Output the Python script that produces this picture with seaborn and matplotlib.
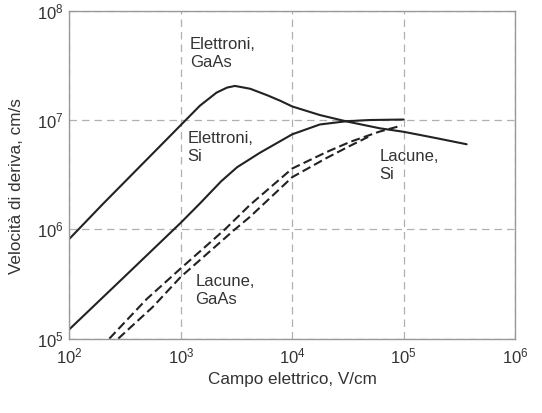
import matplotlib
matplotlib.use("Agg")
import matplotlib.pyplot as plt
import seaborn as sns
import pandas as pd

# Electric field (V/cm) and drift velocity (cm/s)
e_gaas_E = [100, 200, 500, 1000, 1480, 2090, 2600, 3060, 4200, 6000, 7800, 10000, 17700, 30800, 61000, 100000, 140000, 200000, 368000]
e_gaas_v = [8.2e5, 1.71e6, 4.4e6, 9.0e6, 1.35e7, 1.78e7, 1.98e7, 2.05e7, 1.93e7, 1.68e7, 1.5e7, 1.33e7, 1.11e7, 9.7e6, 8.4e6, 7.8e6, 7.3e6, 6.8e6, 6.0e6]

e_si_E = [100, 326, 1000, 1480, 2300, 3200, 5100, 10000, 17700, 30800, 50000, 100000]
e_si_v = [1.22e5, 3.85e5, 1.15e6, 1.72e6, 2.75e6, 3.7e6, 5.0e6, 7.4e6, 9.1e6, 9.75e6, 1.0e7, 1.01e7]

h_si_E = [228, 493, 1000, 2490, 4170, 10000, 20400, 33000, 60000, 96000]
h_si_v = [1.0e5, 2.3e5, 4.4e5, 1.0e6, 1.67e6, 3.6e6, 5.1e6, 6.3e6, 7.8e6, 8.9e6]

h_gaas_E = [274, 560, 1000, 3060, 4170, 10000, 20400, 33000, 48000]
h_gaas_v = [1.0e5, 1.95e5, 3.68e5, 1.0e6, 1.3e6, 3.0e6, 4.5e6, 5.8e6, 7.0e6]

xticks = [1e2, 1e3, 1e4, 1e5, 1e6]
yticks = [1e5, 1e6, 1e7, 1e8]

sns.set_style("white")
plt.rcParams['font.family'] = ['Liberation Sans', 'DejaVu Sans']
plt.rcParams['mathtext.fontset'] = 'custom'
plt.rcParams['mathtext.rm'] = 'Liberation Sans'

fig = plt.figure(figsize=(5.42, 4.13), dpi=100)
ax = fig.add_axes([0.1282, 0.1801, 0.822, 0.794])

line_c = "#222222"
curves = [
    (e_gaas_E, e_gaas_v, "-"),
    (e_si_E, e_si_v, "-"),
    (h_si_E, h_si_v, "--"),
    (h_gaas_E, h_gaas_v, "--"),
]
for E, v, ls in curves:
    df = pd.DataFrame({"E": E, "v": v})
    sns.lineplot(data=df, x="E", y="v", ax=ax, color=line_c, lw=1.5, sort=False)
    ln = ax.lines[-1]
    ln.set_solid_joinstyle("round")
    if ls == "--":
        ln.set_linestyle("--")
        ln.set_dashes((4.3, 2.0))

ax.set_xscale("log")
ax.set_yscale("log")
ax.set_xlim(1e2, 1e6)
ax.set_ylim(1e5, 1e8)
ax.set_xticks(xticks)
ax.set_yticks(yticks)
ax.minorticks_off()
ax.tick_params(which="both", length=0, labelsize=12, colors="#333333")
ax.tick_params(axis="x", pad=6)
ax.tick_params(axis="y", pad=4.5)
ax.grid(True, which="major", color="#b0b0b0", linestyle=(0, (6, 4)), lw=0.9)
for s in ax.spines.values():
    s.set_color("#999999")
    s.set_linewidth(1.0)

ax.set_xlabel("Campo elettrico, V/cm", fontsize=12.3, color="#333333")
ax.set_ylabel("Velocità di deriva, cm/s", fontsize=12.3, color="#333333")
ax.xaxis.set_label_coords(0.5, -0.102)
ax.yaxis.set_label_coords(-0.102, 0.465)

tc = "#333333"
kw = dict(fontsize=12, color=tc, va="center", ha="left", linespacing=1.25)
ax.text(1.21e3, 4.1e7, "Elettroni,\nGaAs", **kw)
ax.text(1.15e3, 5.65e6, "Elettroni,\nSi", **kw)
ax.text(6.1e4, 3.87e6, "Lacune,\nSi", **kw)
ax.text(1.35e3, 2.75e5, "Lacune,\nGaAs", **kw)

fig.savefig("out.png", dpi=100)
